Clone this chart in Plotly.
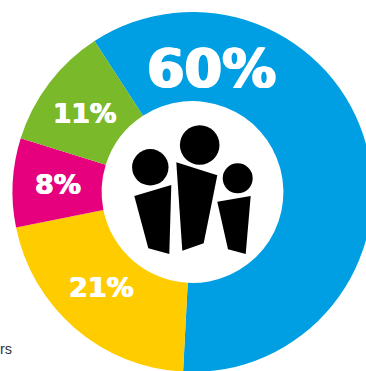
import plotly.graph_objects as go

# Share of each group, clockwise from the blue slice
groups = ["Blue", "Yellow", "Pink", "Green"]
shares = [60, 21, 8, 11]
colors = ["#009FE3", "#FFCC00", "#E6007E", "#7AB929"]
labels = ["60%", "21%", "8%", "11%"]
label_x = [211, 101, 58, 84.5]
label_y = [68.5, 287, 184.5, 113.5]
label_sizes = [54, 27, 27, 26.5]
label_weight = ["1.2px 0 0 white, -1.2px 0 0 white", "0.6px 0 0 white, -0.6px 0 0 white",
                "0.6px 0 0 white, -0.6px 0 0 white", "0.6px 0 0 white, -0.6px 0 0 white"]

# Canvas is a little wider than the window so the ring runs off the right edge
W, H = 384, 386
CX, CY, R = 192.5, 192, 180


def px(x):
    return x / W


def py(y):
    return 1 - y / H


fig = go.Figure(
    go.Pie(
        labels=groups,
        values=shares,
        hole=0.505,
        sort=False,
        direction="clockwise",
        rotation=-33,
        textinfo="none",
        hoverinfo="skip",
        showlegend=False,
        marker=dict(colors=colors, line=dict(width=0)),
        domain=dict(
            x=[px(CX - R), px(CX + R)],
            y=[py(CY + R), py(CY - R)],
        ),
    )
)

# Percentage labels
for text, x, y, size, heavy in zip(labels, label_x, label_y, label_sizes, label_weight):
    fig.add_annotation(
        text=text, x=px(x), y=py(y), xref="paper", yref="paper",
        showarrow=False, xanchor="center", yanchor="middle",
        font=dict(family="DejaVu Sans", size=size, color="white", weight="bold", shadow=heavy),
    )

# Fragment of a caption at the lower left
fig.add_annotation(
    text="rs", x=px(0), y=py(349), xref="paper", yref="paper", xshift=-2,
    showarrow=False, xanchor="left", yanchor="middle",
    font=dict(family="Liberation Sans", size=14.5, color="#333333"),
)

# Family pictogram in the hole of the ring: heads
heads = [(150.3, 167.3, 18.2), (199.7, 145, 19.8), (237.7, 178.3, 15)]
for x, y, r in heads:
    fig.add_shape(
        type="circle", xref="paper", yref="paper",
        x0=px(x - r), x1=px(x + r), y0=py(y + r), y1=py(y - r),
        fillcolor="black", line=dict(width=0),
    )

# Pictogram bodies
bodies = [
    [(134.3, 196), (171.3, 185), (169.3, 254), (148.3, 248.3)],
    [(176.3, 162.3), (217.3, 175.3), (203.7, 243.3), (182.3, 250.7)],
    [(217.3, 201.7), (250.7, 196), (245.7, 254), (228, 249.3)],
]
for body in bodies:
    path = "M " + " L ".join(f"{px(x):.5f} {py(y):.5f}" for x, y in body) + " Z"
    fig.add_shape(
        type="path", xref="paper", yref="paper", path=path,
        fillcolor="black", line=dict(width=0),
    )

fig.update_layout(
    width=W, height=H,
    margin=dict(l=0, r=0, t=0, b=0),
    paper_bgcolor="white",
)

fig.write_html(
    "out.html",
    config=dict(displayModeBar=False),
    post_script="document.documentElement.style.overflow='hidden';document.body.style.overflow='hidden';",
)
